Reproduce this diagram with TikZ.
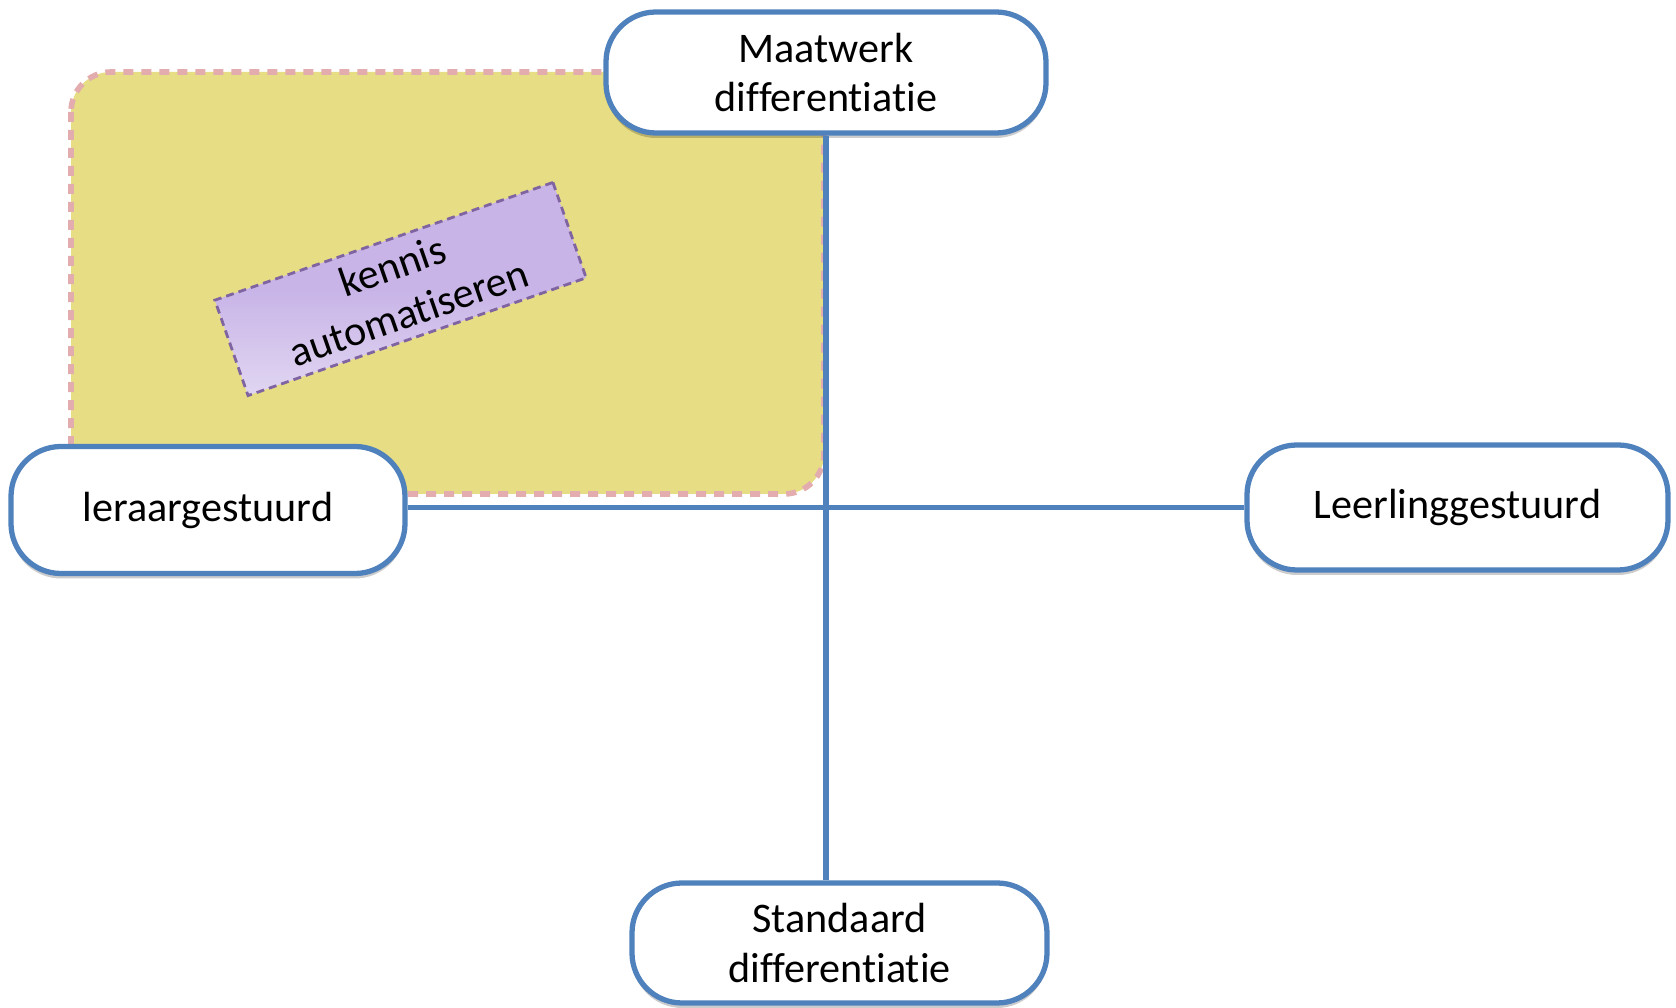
\documentclass[tikz,border=0pt]{standalone}
\usepackage{fontspec}
\setmainfont{Carlito}[Ligatures=NoCommon]
\usepackage{xcolor}
\usetikzlibrary{shadows}

\definecolor{kaderblauw}{HTML}{4F81BD}
\definecolor{vlakgeel}{HTML}{E6DD84}
\definecolor{randroze}{HTML}{E3ACAE}
\definecolor{vlakpaars}{HTML}{C8B4E7}
\definecolor{randpaars}{HTML}{8064A2}

\begin{document}
\begin{tikzpicture}[
        pill/.style={draw=kaderblauw,line width=1.5pt,fill=white,rounded corners=0.5cm,
            align=center,inner sep=0pt,font=\fontsize{12}{14.2}\selectfont,
            drop shadow={shadow xshift=0pt,shadow yshift=-0.05cm,opacity=0.2,fill=black}},
        note/.style={draw=randpaars,line width=0.8pt,dash pattern=on 0.08cm off 0.05cm,
            top color=vlakpaars,bottom color=vlakpaars!55!white,middle color=vlakpaars,
            align=center,inner sep=0pt,font=\fontsize{12}{14.2}\selectfont}
    ]
    \useasboundingbox (0,0) rectangle (16.76,-10.08);

    \draw[randroze,line width=1.6pt,dash pattern=on 0.1cm off 0.08cm,fill=vlakgeel,rounded corners=0.4cm]
        (0.71,-0.72) rectangle (8.24,-4.94);

    \node (kennis) at (4.005,-2.89) [note,rotate=19.2,minimum width=3.58cm,minimum height=1.01cm] {kennis\\automatiseren};

    \node (maat) at (8.26,-0.725) [pill,minimum width=4.40cm,minimum height=1.21cm] {Maatwerk\\differentiatie};
    \node (leraar) at (2.08,-5.10) [pill,minimum width=3.94cm,minimum height=1.27cm] {leraargestuurd};
    \node (leerling) at (14.575,-5.075) [pill,minimum width=4.21cm,minimum height=1.25cm] {Leerlinggestuurd};
    \node (stand) at (8.395,-9.43) [pill,minimum width=4.15cm,minimum height=1.20cm] {Standaard\\differentiatie};

    \draw[kaderblauw,line width=1.5pt] (maat.south) -- (maat.south |- stand.north) (leraar.east |- leerling.west) -- (leerling.west);

\end{tikzpicture}
\end{document}
